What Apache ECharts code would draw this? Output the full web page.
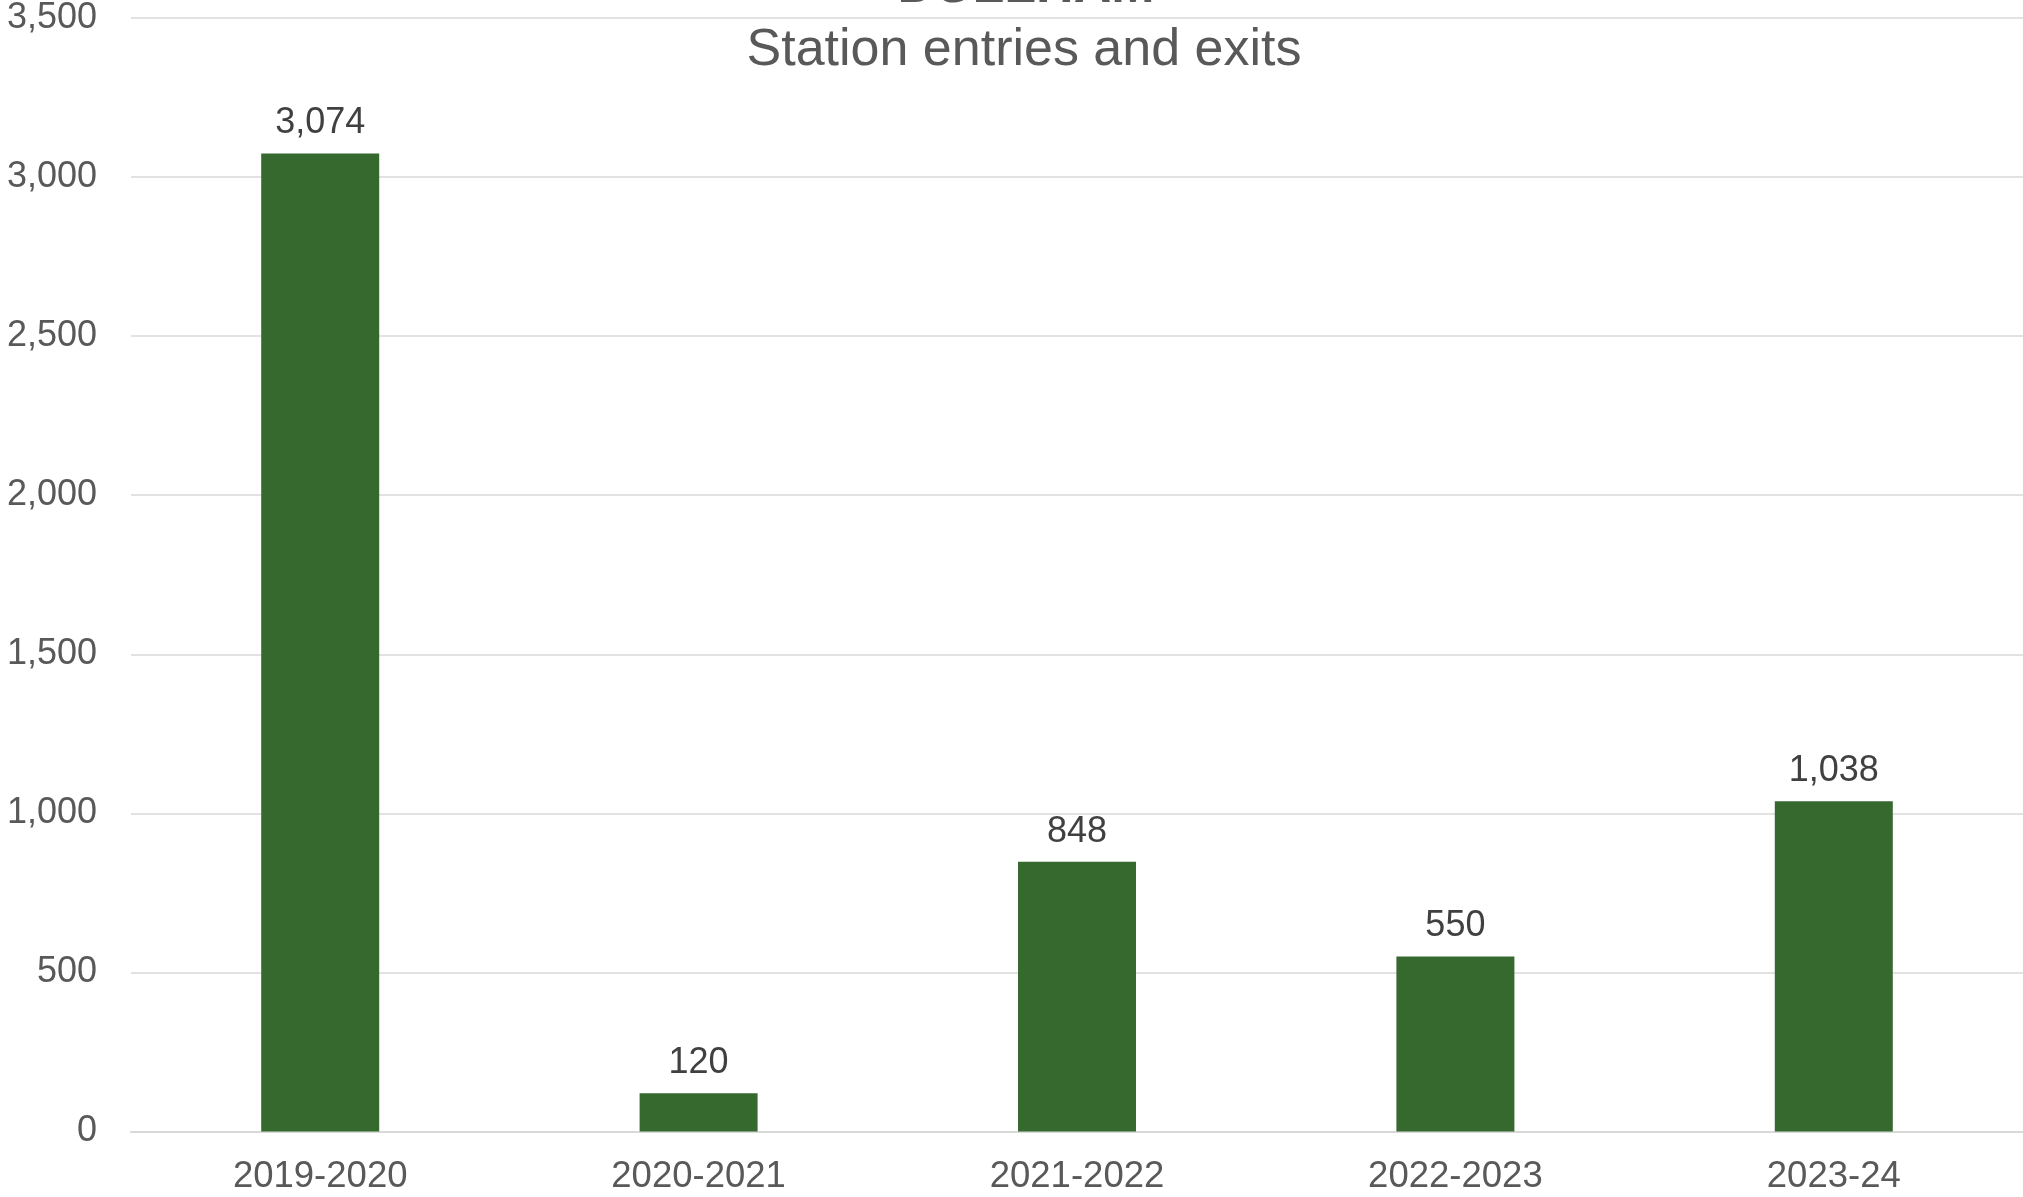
<!DOCTYPE html>
<html>
<head>
<meta charset="utf-8">
<script src="https://cdn.jsdelivr.net/npm/echarts@6/dist/echarts.min.js"></script>
<style>
html,body{margin:0;padding:0;background:#fff;}
#chart{width:2023px;height:1197px;}
</style>
</head>
<body>
<div id="chart"></div>
<script>
const titleText = "DULLHAM";
const subtitleText = "Station entries and exits";
const categories = ["2019-2020", "2020-2021", "2021-2022", "2022-2023", "2023-24"];
const values = [3074, 120, 848, 550, 1038];
const yMin = 0, yMax = 3500, yInterval = 500;

const FONT = '"Liberation Sans", Arial, Helvetica, sans-serif';
const chart = echarts.init(document.getElementById('chart'));
chart.setOption({
  animation: false,
  backgroundColor: '#ffffff',
  title: [
    {
      text: titleText, left: 1021, top: -43, textAlign: 'center',
      textStyle: { fontFamily: FONT, fontSize: 52, fontWeight: 'bold', color: '#595959', lineHeight: 52 }
    },
    {
      text: subtitleText, left: 1019, top: 20, textAlign: 'center',
      textStyle: { fontFamily: FONT, fontSize: 52, fontWeight: 'normal', color: '#595959', lineHeight: 52 }
    }
  ],
  grid: { left: 131, right: 0, top: 18, bottom: 65.5, containLabel: false },
  xAxis: {
    type: 'category',
    data: categories,
    axisTick: { show: false },
    axisLine: { show: true, lineStyle: { color: '#d9d9d9', width: 2 } },
    axisLabel: { fontFamily: FONT, fontSize: 36.5, color: '#595959', margin: 27 }
  },
  yAxis: {
    type: 'value',
    min: yMin, max: yMax, interval: yInterval,
    axisLine: { show: false },
    axisTick: { show: false },
    splitLine: { lineStyle: { color: '#d9d9d9', width: 1.5 } },
    axisLabel: {
      fontFamily: FONT, fontSize: 36, color: '#595959', margin: 34,
      formatter: v => v.toLocaleString('en-US')
    }
  },
  series: [{
    type: 'bar',
    data: values,
    barWidth: 118,
    itemStyle: { color: '#35692e' },
    label: {
      show: true, position: 'top', distance: 12,
      fontFamily: FONT, fontSize: 36, color: '#404040',
      formatter: p => p.value.toLocaleString('en-US')
    }
  }]
});
</script>
</body>
</html>
